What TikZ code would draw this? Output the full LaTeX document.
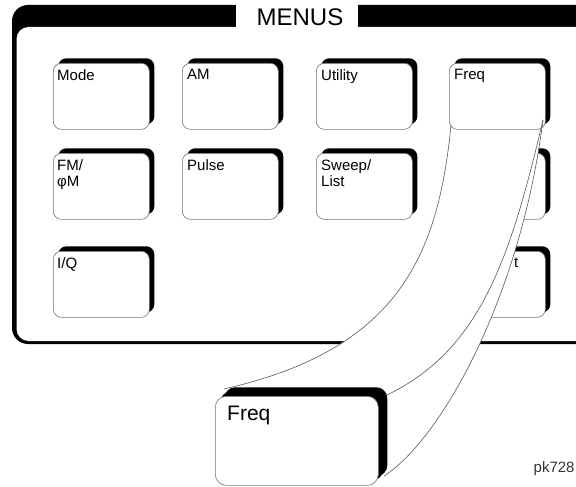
\documentclass[tikz,border=0pt]{standalone}
\usepackage{fontspec}
\setmainfont{Liberation Sans}
\usetikzlibrary{shadows}
\tikzset{
  btn/.style={draw=black!55, line width=0.6pt, fill=white, rounded corners=8pt,
    minimum width=96pt, minimum height=66pt, inner sep=0pt, anchor=north west,
    drop shadow={shadow xshift=5pt, shadow yshift=5pt, opacity=1, fill=black}},
  bigbtn/.style={btn, rounded corners=11pt, minimum width=163pt, minimum height=89pt,
    drop shadow={shadow xshift=9pt, shadow yshift=9pt, opacity=1, fill=black}},
  lbl/.style={inner sep=0pt, anchor=north west, align=left,
    font=\fontsize{15}{16}\selectfont},
  lensline/.style={draw=black!65, line width=0.6pt},
}
\begin{document}
\begin{tikzpicture}[x=1pt,y=-1pt]
\useasboundingbox (0,0) rectangle (576,487);
\clip (0,0) rectangle (576,487);
% frame
\fill[black, rounded corners=16pt] (12,5) rectangle (640,344);
\fill[white, rounded corners=12pt] (16.5,27) rectangle (640,341);
\fill[white] (236,3) rectangle (358,29);
\node[inner sep=0pt, font=\fontsize{24}{24}\selectfont] (menus) at (300,17) {MENUS};
% buttons
\node[btn] (mode) at (53,63) {};
\node[btn] (am) at (182,63) {};
\node[btn] (util) at (316,63) {};
\node[btn] (fm) at (53,153) {};
\node[btn] (pulse) at (182,153) {};
\node[btn] (sweep) at (316,153) {};
\node[btn] (ampl) at (449,153) {};
\node[btn] (iq) at (53,251) {};
\node[btn] (lfout) at (449,251) {};
\node[lbl] (tmode) at ([shift={(4pt,-6pt)}]mode.north west) {Mode};
\node[lbl] (tam) at ([shift={(5pt,-6pt)}]am.north west) {AM};
\node[lbl] (tutil) at ([shift={(5pt,-6pt)}]util.north west) {Utility};
\node[lbl] (tfm) at ([shift={(4pt,-6pt)}]fm.north west) {FM/\\φM};
\node[lbl] (tpulse) at ([shift={(5pt,-6pt)}]pulse.north west) {Pulse};
\node[lbl] (tsweep) at ([shift={(5pt,-6pt)}]sweep.north west) {Sweep/\\List};
\node[lbl] (tiq) at ([shift={(4pt,-6pt)}]iq.north west) {I/Q};
\node[lbl, anchor=north east] (tlf) at ([shift={(-27pt,-7pt)}]lfout.north east) {t};
% lens region
\coordinate (A) at (451,125);
\coordinate (E) at (543,120);
\coordinate (B) at (224,389);
\coordinate (C) at (387,395);
\coordinate (D) at (384,476);
\fill[white] (A) .. controls (438,260) and (395,350) .. (B) -- (D)
   .. controls (440,440) and (520,300) .. (E) -- cycle;
\node[btn] (freq) at (449,63) {};
\node[lbl] (tfreq) at ([shift={(5pt,-6pt)}]freq.north west) {Freq};
\draw[lensline] (A) .. controls (438,260) and (395,350) .. (B);
\draw[lensline] (E) .. controls (510,260) and (480,350) .. (C);
\draw[lensline] (E) .. controls (520,300) and (440,440) .. (D);
% big key
\node[bigbtn] (bigfreq) at (215,396) {};
\node[lbl, font=\fontsize{21}{22}\selectfont] (tbig) at ([shift={(12pt,-10pt)}]bigfreq.north west) {Freq};
\node[inner sep=0pt, anchor=base west, font=\fontsize{15}{15}\selectfont, text=black!80] (code) at (533.5,472) {pk728};
\end{tikzpicture}
\end{document}
